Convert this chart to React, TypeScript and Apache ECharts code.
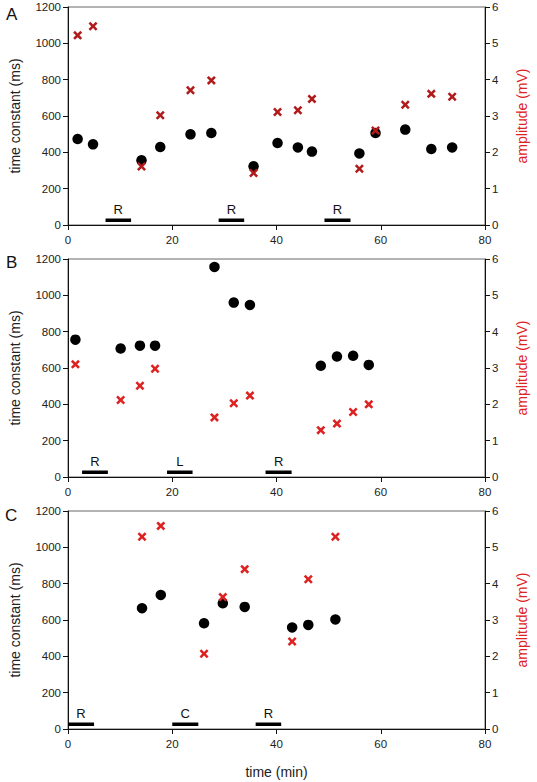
import React, { useEffect, useRef } from "react";
import * as echarts from "echarts";

// Panel A
const aTime = [1.85, 4.8, 14.1, 17.7, 23.5, 27.5, 35.6, 40.2, 44.1, 46.8, 55.9, 59.0, 64.7, 69.7, 73.7];
const aTau = [473, 444, 356, 429, 499, 506, 323, 451, 427, 404, 394, 506, 525, 418, 427];
const aAmp = [5.22, 5.47, 1.61, 3.02, 3.71, 3.98, 1.43, 3.11, 3.16, 3.47, 1.55, 2.6, 3.31, 3.61, 3.53];
const aBars = [[7.2, 12.1], [28.9, 33.8], [49.2, 54.2]];
const aBarLabels = ["R", "R", "R"];

// Panel B
const bTime = [1.42, 10.1, 13.8, 16.7, 28.1, 31.8, 34.9, 48.5, 51.6, 54.7, 57.7];
const bTau = [756, 707, 723, 723, 1156, 960, 947, 612, 663, 667, 617];
const bAmp = [3.1, 2.12, 2.51, 2.98, 1.64, 2.03, 2.24, 1.29, 1.47, 1.79, 2.0];
const bBars = [[2.7, 7.65], [19.0, 23.9], [37.9, 42.9]];
const bBarLabels = ["R", "L", "R"];

// Panel C
const cTime = [14.2, 17.8, 26.1, 29.7, 33.9, 43.0, 46.1, 51.3];
const cTau = [665, 738, 582, 692, 672, 559, 573, 603];
const cAmp = [5.29, 5.59, 2.07, 3.63, 4.4, 2.41, 4.12, 5.29];
const cBars = [[0, 5.0], [20.0, 25.0], [36.0, 40.9]];
const cBarLabels = ["R", "C", "R"];

const panelLetters = ["A", "B", "C"];
const barLevel = 26;

const FONT = "Liberation Sans, Arial, sans-serif";
const CROSS = "path://M2,0 L5,3 L8,0 L10,2 L7,5 L10,8 L8,10 L5,7 L2,10 L0,8 L3,5 L0,2 Z";

export default function App() {
  const ref = useRef<HTMLDivElement>(null);
  useEffect(() => {
    if (!ref.current) return;
    const chart = echarts.init(ref.current, null, { renderer: "svg" });
    const panels = [
      { time: aTime, tau: aTau, amp: aAmp, bars: aBars, labels: aBarLabels, crossColor: "#b01c1c" },
      { time: bTime, tau: bTau, amp: bAmp, bars: bBars, labels: bBarLabels, crossColor: "#dd2222" },
      { time: cTime, tau: cTau, amp: cAmp, bars: cBars, labels: cBarLabels, crossColor: "#dd2222" },
    ];
    const grids = [
      { left: 64, top: 7, width: 428, height: 218 },
      { left: 64, top: 259, width: 428, height: 218 },
      { left: 66, top: 511, width: 427, height: 218 },
    ].map((g) => ({ ...g, show: true, borderColor: "#666", borderWidth: 1, backgroundColor: "transparent" }));

    const axisLabel = { color: "#222", fontSize: 11.5, fontFamily: FONT, formatter: (v: number) => String(v) };
    const axisLine = { show: true, lineStyle: { color: "#111", width: 1 } };
    const axisTick = { show: true, inside: false, length: 5, lineStyle: { color: "#111" } };

    const xAxis = grids.map((_, i) => ({
      type: "value",
      gridIndex: i,
      min: 0,
      max: 80,
      interval: 20,
      axisLine,
      axisTick,
      axisLabel: { ...axisLabel, margin: 9 },
      splitLine: { show: false },
      name: i === 2 ? "time (min)" : "",
      nameLocation: "middle",
      nameGap: 36,
      nameTextStyle: { color: "#222", fontSize: 14, fontFamily: FONT },
    }));

    const yAxis: any[] = [];
    grids.forEach((_, i) => {
      yAxis.push({
        type: "value",
        gridIndex: i,
        position: "left",
        min: 0,
        max: 1200,
        interval: 200,
        axisLine,
        axisTick,
        axisLabel: { ...axisLabel, margin: 7 },
        splitLine: { show: false },
        name: "time constant (ms)",
        nameLocation: "middle",
        nameGap: 46,
        nameTextStyle: { color: "#222", fontSize: 14, fontFamily: FONT },
      });
      yAxis.push({
        type: "value",
        gridIndex: i,
        position: "right",
        min: 0,
        max: 6,
        interval: 1,
        axisLine,
        axisTick,
        axisLabel: { ...axisLabel, margin: 7 },
        splitLine: { show: false },
        name: "amplitude (mV)",
        nameLocation: "middle",
        nameGap: 30,
        nameRotate: 90,
        nameTextStyle: { color: "#dd2222", fontSize: 14, fontFamily: FONT },
      });
    });

    const series: any[] = [];
    panels.forEach((p, i) => {
      p.bars.forEach((b) => {
        series.push({
          type: "line",
          xAxisIndex: i,
          yAxisIndex: 2 * i,
          data: [[b[0], barLevel], [b[1], barLevel]],
          symbol: "none",
          lineStyle: { color: "#000", width: 3.5 },
          silent: true,
        });
      });
      const labels = p.labels;
      series.push({
        type: "custom",
        xAxisIndex: i,
        yAxisIndex: 2 * i,
        data: p.bars.map((b) => [(b[0] + b[1]) / 2, barLevel]),
        renderItem: (params: any, api: any) => {
          const pt = api.coord([api.value(0), api.value(1)]);
          return {
            type: "text",
            x: pt[0],
            y: pt[1] - 4,
            style: {
              text: labels[params.dataIndex],
              fill: "#111",
              fontSize: 13,
              fontFamily: FONT,
              align: "center",
              verticalAlign: "bottom",
            },
          };
        },
      });
      series.push({
        type: "scatter",
        xAxisIndex: i,
        yAxisIndex: 2 * i,
        symbol: "circle",
        symbolSize: 10.5,
        itemStyle: { color: "#000", opacity: 1 },
        data: p.time.map((t, k) => [t, p.tau[k]]),
      });
      series.push({
        type: "scatter",
        xAxisIndex: i,
        yAxisIndex: 2 * i + 1,
        symbol: CROSS,
        symbolSize: 9,
        itemStyle: { color: p.crossColor, opacity: 1 },
        data: p.time.map((t, k) => [t, p.amp[k]]),
      });
    });

    const letterPos = [
      { x: 6, y: 6 },
      { x: 6, y: 254 },
      { x: 5, y: 507 },
    ];
    chart.setOption({
      animation: false,
      backgroundColor: "#fff",
      grid: grids,
      xAxis,
      yAxis,
      series,
      graphic: panelLetters.map((l, i) => ({
        type: "text",
        left: letterPos[i].x,
        top: letterPos[i].y,
        style: { text: l, fontSize: 17, fontFamily: FONT, fill: "#111" },
      })),
    });
    return () => chart.dispose();
  }, []);
  return (
    <div
      ref={ref}
      style={{ position: "absolute", left: 0, top: 0, width: 537, height: 782 }}
    />
  );
}
